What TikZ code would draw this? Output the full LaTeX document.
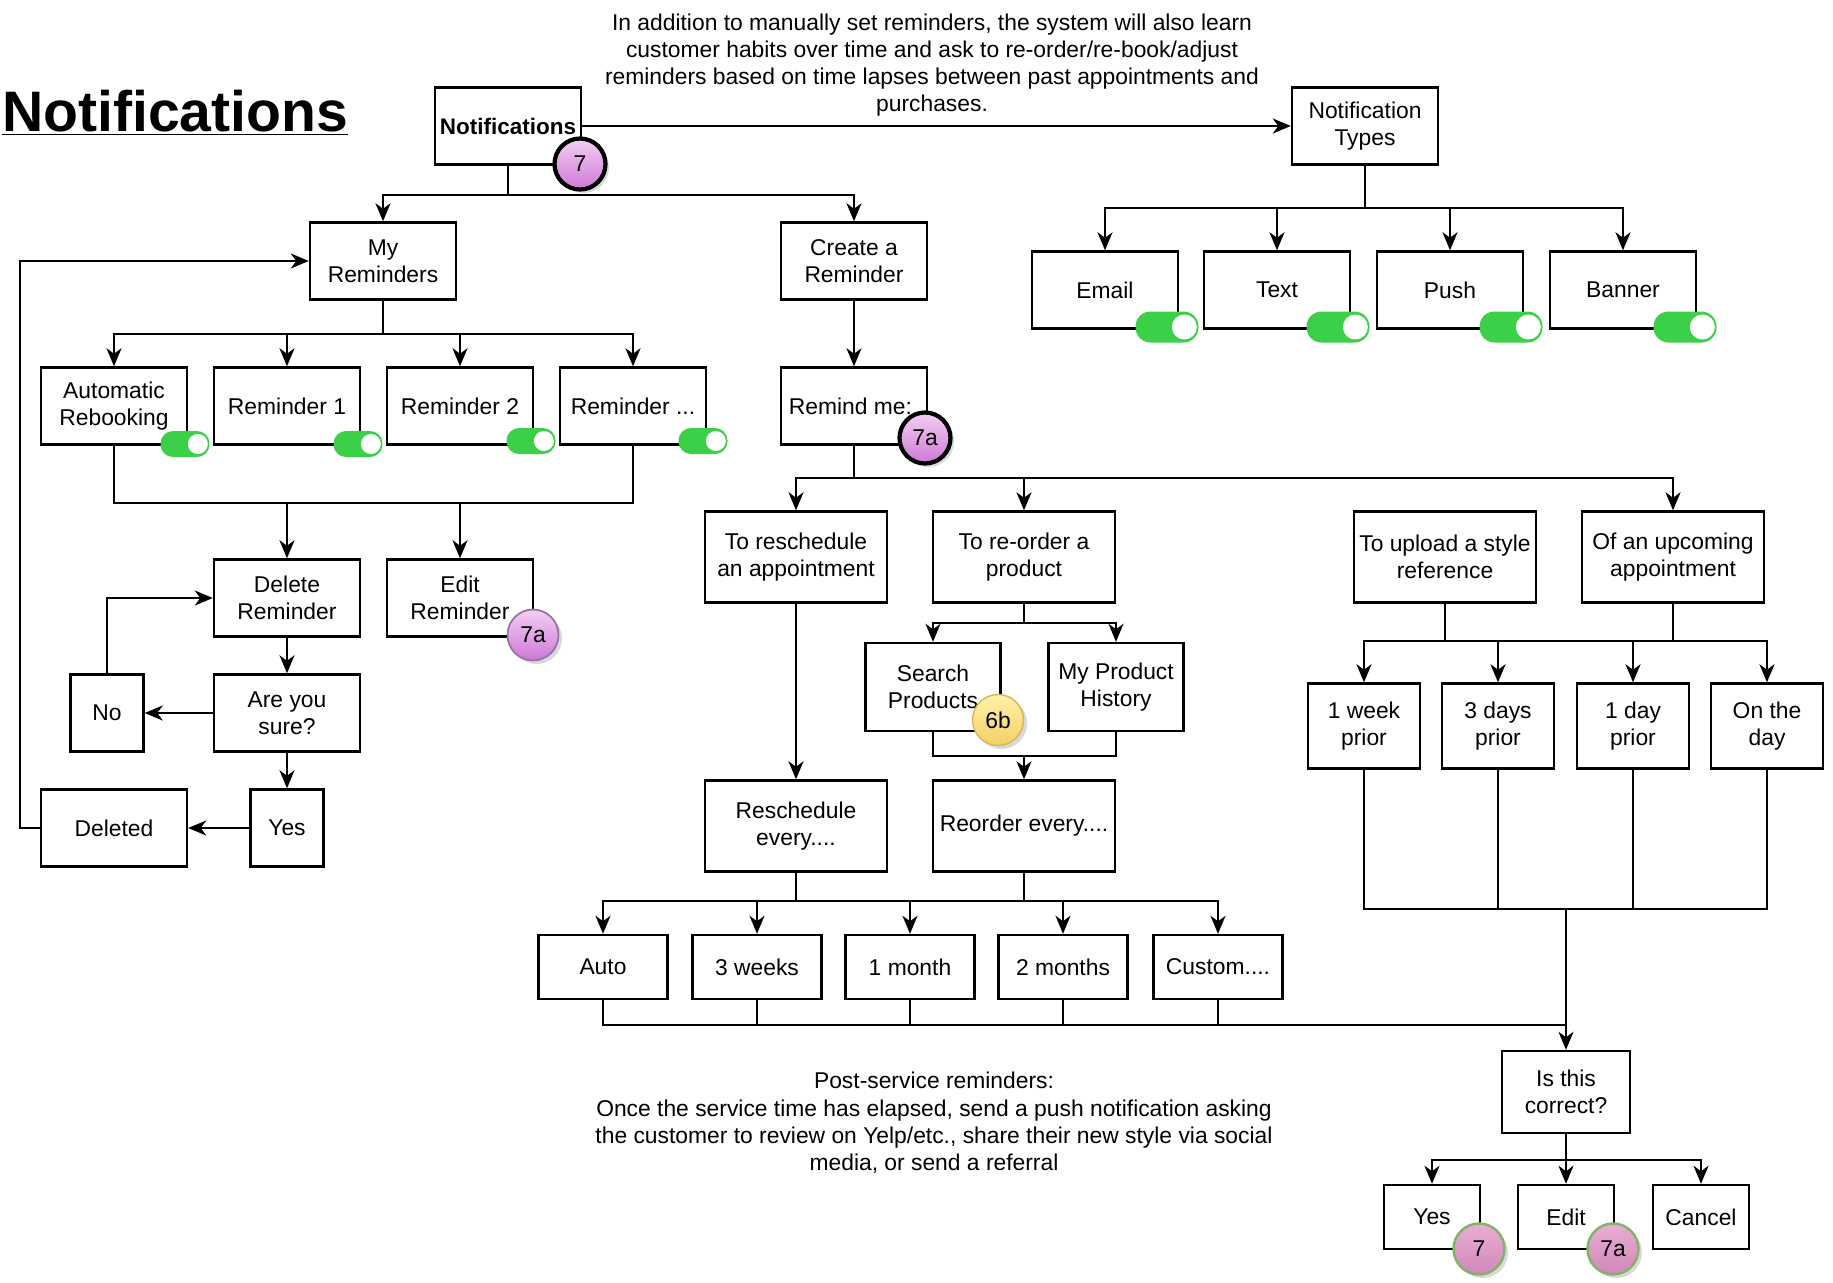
\documentclass[tikz,border=0pt]{standalone}
\usepackage{fontspec}
\setmainfont{Liberation Sans}
\usepackage{tikz}
\usepackage{xcolor}
\usetikzlibrary{shapes, positioning, arrows.meta, shadows}

\definecolor{swgreen}{RGB}{60,207,72}
\definecolor{lilactop}{RGB}{244,206,244}
\definecolor{lilacbot}{RGB}{206,120,214}
\definecolor{lilacline}{RGB}{150,115,166}
\definecolor{goldtop}{RGB}{255,242,170}
\definecolor{goldbot}{RGB}{244,208,102}
\definecolor{goldline}{RGB}{214,182,86}
\definecolor{rosetop}{RGB}{232,174,212}
\definecolor{rosebot}{RGB}{208,136,184}
\definecolor{leafline}{RGB}{130,179,102}

\begin{document}
\begin{tikzpicture}[x=0.02cm, y=-0.02cm,
        font=\fontsize{13}{15.5}\selectfont,
        box/.style={draw, line width=1.4pt, align=center, inner sep=1pt, minimum width=2.92cm, minimum height=1.54cm},
        thinbox/.style={box, minimum width=1.46cm},
        widebox/.style={box, minimum width=3.64cm, minimum height=1.82cm},
        midbox/.style={box, minimum width=2.7cm, minimum height=1.76cm},
        spanbox/.style={box, minimum width=2.58cm, minimum height=1.28cm},
        priorbox/.style={box, minimum width=2.24cm, minimum height=1.7cm},
        askbox/.style={box, minimum width=2.56cm, minimum height=1.64cm},
        smallbox/.style={box, minimum width=1.92cm, minimum height=1.28cm},
        wire/.style={line width=1.3pt},
        flow/.style={wire, -{Stealth[length=0.36cm, width=0.3cm, inset=0.11cm]}},
        badge/.style={circle, minimum size=1.02cm, inner sep=0pt,
            drop shadow={opacity=0.3, shadow xshift=0.07cm, shadow yshift=-0.07cm}},
        violet/.style={badge, top color=lilactop, bottom color=lilacbot},
        gold/.style={badge, top color=goldtop, bottom color=goldbot, draw=goldline, line width=0.8pt},
        rose/.style={badge, top color=rosetop, bottom color=rosebot, draw=leafline, line width=1.4pt},
        toggle/.style={fill=swgreen, rounded corners=0.3cm, minimum width=1.26cm, minimum height=0.62cm, inner sep=0pt},
        smalltoggle/.style={fill=swgreen, rounded corners=0.25cm, minimum width=0.98cm, minimum height=0.52cm, inner sep=0pt},
        knob/.style={circle, fill=white, inner sep=0pt, minimum size=0.5cm},
        smallknob/.style={circle, fill=white, inner sep=0pt, minimum size=0.4cm}]

    \useasboundingbox (0,0) rectangle (1833,1282);

    % titles and notes
    \node[anchor=base west, inner sep=0pt, font=\fontsize{32.5}{39}\selectfont\bfseries] (title) at (2,131) {\underline{Notifications}};
    \node[align=center] (topnote) at (932,65) {In addition to manually set reminders, the system will also learn\\customer habits over time and ask to re-order/re-book/adjust\\reminders based on time lapses between past appointments and\\purchases.};
    \node[align=center] (postnote) at (934,1123) {Post-service reminders:\\Once the service time has elapsed, send a push notification asking\\the customer to review on Yelp/etc., share their new style via social\\media, or send a referral};

    % top row
    \node[box, font=\fontsize{12.8}{15.4}\selectfont\bfseries] (notif) at (508,126) {Notifications};
    \node[box] (types) at (1365,126) {Notification\\Types};
    \node[box] (email) at (1105,290) {Email};
    \node[box] (text) at (1277,290) {Text};
    \node[box] (push) at (1450,290) {Push};
    \node[box] (banner) at (1623,290) {Banner};

    % my reminders
    \node[box] (myrem) at (383,261) {My\\Reminders};
    \node[box] (create) at (854,261) {Create a\\Reminder};
    \node[box] (auto) at (114,406) {Automatic\\Rebooking};
    \node[box] (rem1) at (287,406) {Reminder 1};
    \node[box] (rem2) at (460,406) {Reminder 2};
    \node[box] (remx) at (633,406) {Reminder ...};
    \node[box] (delete) at (287,598) {Delete\\Reminder};
    \node[box] (edit) at (460,598) {Edit\\Reminder};
    \node[box] (sure) at (287,713) {Are you\\sure?};
    \node[thinbox] (no) at (107,713) {No};
    \node[thinbox] (yesdel) at (287,828) {Yes};
    \node[box] (deleted) at (114,828) {Deleted};

    % create a reminder
    \node[box] (remind) at (854,406) {Remind me:\hspace*{4pt}};
    \node[widebox] (resched) at (796,557) {To reschedule\\an appointment};
    \node[widebox] (reorder) at (1024,557) {To re-order a\\product};
    \node[widebox] (upload) at (1445,557) {To upload a style\\reference};
    \node[widebox] (upcoming) at (1673,557) {Of an upcoming\\appointment};
    \node[midbox] (search) at (933,687) {Search\\Products};
    \node[midbox] (history) at (1116,687) {My Product\\History};
    \node[widebox] (reschev) at (796,826) {Reschedule\\every....};
    \node[widebox] (reordev) at (1024,826) {Reorder every....};
    \node[spanbox] (auto2) at (603,967) {Auto};
    \node[spanbox] (weeks) at (757,967) {3 weeks};
    \node[spanbox] (month1) at (910,967) {1 month};
    \node[spanbox] (months2) at (1063,967) {2 months};
    \node[spanbox] (custom) at (1218,967) {Custom....};
    \node[priorbox] (week) at (1364,726) {1 week\\prior};
    \node[priorbox] (days3) at (1498,726) {3 days\\prior};
    \node[priorbox] (day1) at (1633,726) {1 day\\prior};
    \node[priorbox] (onday) at (1767,726) {On the\\day};
    \node[askbox] (correct) at (1566,1092) {Is this\\correct?};
    \node[smallbox] (yes2) at (1432,1217) {Yes};
    \node[smallbox] (editb) at (1566,1217) {Edit};
    \node[smallbox] (cancel) at (1701,1217) {Cancel};

    % junctions
    \coordinate (jtop) at (508,195);
    \coordinate (jtype) at (1365,208);
    \coordinate (jmine) at (383,334);
    \coordinate (jdel) at (287,503);
    \coordinate (jedit) at (460,503);
    \coordinate (jremind) at (854,478);
    \coordinate (jreorder) at (1024,623);
    \coordinate (jpick) at (1024,756);
    \coordinate (jresch) at (796,901);
    \coordinate (jreord) at (1024,901);
    \coordinate (jspan) at (1566,1025);
    \coordinate (jupload) at (1445,641);
    \coordinate (jcoming) at (1673,641);
    \coordinate (jprior) at (1566,909);
    \coordinate (jask) at (1566,1160);

    % connectors
    \draw[flow] (notif.east) -- (types.west |- notif.east);
    \draw[wire] (types.south) -- (jtype);
    \draw[flow] (jtype) -| (email.north);
    \draw[flow] (jtype) -| (text.north);
    \draw[flow] (jtype) -| (push.north);
    \draw[flow] (jtype) -| (banner.north);
    \draw[wire] (notif.south) -- (jtop);
    \draw[flow] (jtop) -| (myrem.north);
    \draw[flow] (jtop) -| (create.north);
    \draw[wire] (myrem.south) -- (jmine);
    \draw[flow] (jmine) -| (auto.north);
    \draw[flow] (jmine) -| (rem1.north);
    \draw[flow] (jmine) -| (rem2.north);
    \draw[flow] (jmine) -| (remx.north);
    \draw[wire] (auto.south) |- (jdel) -| (remx.south);
    \draw[flow] (jdel) -- (delete.north);
    \draw[flow] (jedit) -- (edit.north);
    \draw[flow] (delete) -- (sure);
    \draw[flow] (sure) -- (no);
    \draw[flow] (no.north) |- (delete.west);
    \draw[flow] (sure) -- (yesdel);
    \draw[flow] (yesdel) -- (deleted);
    \draw[flow] (deleted.west) -- ++(-20,0) |- (myrem.west);

    \draw[flow] (create) -- (remind);
    \draw[wire] (remind.south) -- (jremind);
    \draw[flow] (jremind) -| (resched.north);
    \draw[flow] (jremind) -| (reorder.north);
    \draw[flow] (jremind) -| (upcoming.north);
    \draw[flow] (resched) -- (reschev);
    \draw[wire] (reorder.south) -- (jreorder);
    \draw[flow] (jreorder) -| (search.north);
    \draw[flow] (jreorder) -| (history.north);
    \draw[wire] (search.south) |- (jpick) -| (history.south);
    \draw[flow] (jpick) -- (reordev.north);
    \draw[wire] (reschev.south) -- (jresch) -- (jreord);
    \draw[wire] (reordev.south) -- (jreord);
    \draw[flow] (jresch) -| (auto2.north);
    \draw[flow] (jresch) -| (weeks.north);
    \draw[flow] (jresch) -| (month1.north);
    \draw[flow] (jreord) -| (months2.north);
    \draw[flow] (jreord) -| (custom.north);
    \draw[wire] (auto2.south) |- (jspan);
    \draw[wire] (weeks.south) |- (jspan);
    \draw[wire] (month1.south) |- (jspan);
    \draw[wire] (months2.south) |- (jspan);
    \draw[wire] (custom.south) |- (jspan);

    \draw[wire] (upload.south) -- (jupload) -- (jcoming);
    \draw[wire] (upcoming.south) -- (jcoming);
    \draw[flow] (jupload) -| (week.north);
    \draw[flow] (jupload) -| (days3.north);
    \draw[flow] (jcoming) -| (day1.north);
    \draw[flow] (jcoming) -| (onday.north);
    \draw[wire] (week.south) |- (jprior);
    \draw[wire] (days3.south) |- (jprior);
    \draw[wire] (day1.south) |- (jprior);
    \draw[wire] (onday.south) |- (jprior);
    \draw[flow] (jprior) -- (correct.north);
    \draw[wire] (correct.south) -- (jask);
    \draw[flow] (jask) -| (yes2.north);
    \draw[flow] (jask) -| (editb.north);
    \draw[flow] (jask) -| (cancel.north);

    % toggles
    \node[toggle] (tgemail) at (1167,327) {};
    \node[knob] (kemail) at ([xshift=-0.29cm]tgemail.east) {};
    \node[toggle] (tgtext) at (1338,327) {};
    \node[knob] (ktext) at ([xshift=-0.29cm]tgtext.east) {};
    \node[toggle] (tgpush) at (1511,327) {};
    \node[knob] (kpush) at ([xshift=-0.29cm]tgpush.east) {};
    \node[toggle] (tgbanner) at (1685,327) {};
    \node[knob] (kbanner) at ([xshift=-0.29cm]tgbanner.east) {};
    \node[smalltoggle] (tgauto) at (185,444) {};
    \node[smallknob] (kauto) at ([xshift=-0.24cm]tgauto.east) {};
    \node[smalltoggle] (tgrem1) at (358,444) {};
    \node[smallknob] (krem1) at ([xshift=-0.24cm]tgrem1.east) {};
    \node[smalltoggle] (tgrem2) at (531,441) {};
    \node[smallknob] (krem2) at ([xshift=-0.24cm]tgrem2.east) {};
    \node[smalltoggle] (tgremx) at (703,441) {};
    \node[smallknob] (kremx) at ([xshift=-0.24cm]tgremx.east) {};

    % badges
    \node[violet, draw=black, line width=2.4pt] (bnotif) at (580,164) {7};
    \node[violet, draw=black, line width=2.4pt] (bremind) at (925,438) {7a};
    \node[violet, draw=lilacline, line width=1pt] (bedit) at (533,635) {7a};
    \node[gold] (bsearch) at (998,720) {6b};
    \node[rose] (byes) at (1479,1249) {7};
    \node[rose] (bedit2) at (1613,1249) {7a};
\end{tikzpicture}
\end{document}
